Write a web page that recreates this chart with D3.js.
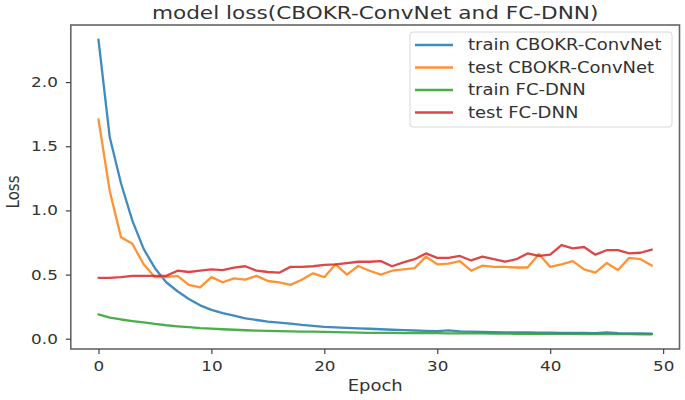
<!DOCTYPE html>
<html>
<head>
<meta charset="utf-8">
<script src="https://cdn.jsdelivr.net/npm/d3@7"></script>
<style>
  html, body { margin: 0; padding: 0; background: #fff; }
  svg { display: block; font-family: "DejaVu Sans", sans-serif; }
</style>
</head>
<body>
<svg id="chart" width="685" height="400"></svg>
<script>
// ---- data ----
const epochs = [0,1,2,3,4,5,6,7,8,9,10,11,12,13,14,15,16,17,18,19,20,21,22,23,24,
                25,26,27,28,29,30,31,32,33,34,35,36,37,38,39,40,41,42,43,44,45,46,47,48,49];

const trainCnn = [2.33, 1.57, 1.21, 0.92, 0.70, 0.55, 0.44, 0.37, 0.31, 0.26,
                  0.225, 0.20, 0.18, 0.158, 0.146, 0.134, 0.126, 0.118, 0.108, 0.10,
                  0.093, 0.088, 0.084, 0.081, 0.078, 0.074, 0.07, 0.067, 0.064, 0.062,
                  0.06, 0.065, 0.058, 0.055, 0.053, 0.052, 0.05, 0.05, 0.049, 0.048,
                  0.047, 0.046, 0.046, 0.045, 0.044, 0.05, 0.044, 0.042, 0.041, 0.04];

const testCnn = [1.71, 1.15, 0.79, 0.74, 0.58, 0.48, 0.48, 0.49, 0.42, 0.40,
                 0.48, 0.44, 0.47, 0.46, 0.49, 0.45, 0.44, 0.42, 0.46, 0.51,
                 0.48, 0.58, 0.50, 0.567, 0.53, 0.50, 0.53, 0.54, 0.55, 0.64,
                 0.58, 0.585, 0.605, 0.53, 0.57, 0.56, 0.56, 0.555, 0.555, 0.66,
                 0.56, 0.58, 0.605, 0.54, 0.515, 0.59, 0.535, 0.63, 0.62, 0.57];

const trainDnn = [0.19, 0.165, 0.15, 0.138, 0.127, 0.115, 0.105, 0.097, 0.09, 0.083,
                  0.078, 0.074, 0.07, 0.066, 0.063, 0.061, 0.059, 0.057, 0.056, 0.055,
                  0.053, 0.051, 0.049, 0.047, 0.046, 0.045, 0.045, 0.044, 0.044, 0.043,
                  0.043, 0.042, 0.042, 0.041, 0.041, 0.040, 0.040, 0.039, 0.039, 0.039,
                  0.038, 0.038, 0.038, 0.037, 0.037, 0.037, 0.036, 0.036, 0.035, 0.035];

const testDnn = [0.475, 0.475, 0.48, 0.49, 0.49, 0.49, 0.49, 0.53, 0.52, 0.53,
                 0.54, 0.535, 0.555, 0.565, 0.53, 0.52, 0.515, 0.56, 0.56, 0.565,
                 0.575, 0.58, 0.59, 0.60, 0.60, 0.605, 0.565, 0.595, 0.62, 0.665,
                 0.63, 0.63, 0.645, 0.61, 0.64, 0.62, 0.60, 0.62, 0.665, 0.645,
                 0.655, 0.73, 0.705, 0.715, 0.655, 0.69, 0.69, 0.665, 0.67, 0.695];

const seriesNames = ["train CBOKR-ConvNet", "test CBOKR-ConvNet", "train FC-DNN", "test FC-DNN"];
const seriesValues = [trainCnn, testCnn, trainDnn, testDnn];
const seriesColors = ["#1f77b4", "#ff7f0e", "#2ca02c", "#d62728"];

const xTicks = [0, 10, 20, 30, 40, 50];
const yTicks = [0.0, 0.5, 1.0, 1.5, 2.0];

const titleText = "model loss(CBOKR-ConvNet and FC-DNN)";
const xLabel = "Epoch";
const yLabel = "Loss";

// ---- layout ----
const SX = 1.2; // horizontal text stretch of the reference image
const plotL = 70.8, plotR = 679.5, plotT = 25, plotB = 349;

const svg = d3.select("#chart");

const x = d3.scaleLinear().domain([-2.45, 51.45]).range([plotL, plotR]);
const y = d3.scaleLinear().domain([-0.08, 2.445]).range([plotB, plotT]);

// lines
const line = d3.line().x((d, i) => x(epochs[i])).y(d => y(d));
const g = svg.append("g");
seriesValues.forEach((vals, k) => {
  g.append("path")
    .datum(vals)
    .attr("fill", "none")
    .attr("stroke", seriesColors[k])
    .attr("stroke-width", 2.3)
    .attr("stroke-linejoin", "round")
    .attr("stroke-linecap", "round")
    .attr("opacity", 0.85)
    .attr("d", line);
});

// frame
svg.append("rect")
  .attr("x", plotL).attr("y", plotT)
  .attr("width", plotR - plotL).attr("height", plotB - plotT)
  .attr("fill", "none").attr("stroke", "#666").attr("stroke-width", 1.6);

// axes
const tickColor = "#444";
const xAxis = svg.append("g")
  .attr("transform", `translate(0,${plotB})`)
  .call(d3.axisBottom(x).tickValues(xTicks).tickFormat(d3.format("d")).tickSize(5).tickPadding(7));
const yAxis = svg.append("g")
  .attr("transform", `translate(${plotL},0)`)
  .call(d3.axisLeft(y).tickValues(yTicks).tickFormat(d3.format(".1f")).tickSize(5).tickPadding(8));

[xAxis, yAxis].forEach(ax => {
  ax.select(".domain").remove();
  ax.selectAll(".tick line").attr("stroke", tickColor).attr("stroke-width", 1.2);
  ax.selectAll(".tick text")
    .attr("fill", "#333")
    .style("font-family", "DejaVu Sans, sans-serif")
    .style("font-size", "14px");
});
xAxis.selectAll(".tick text").attr("transform", `scale(${SX},1)`)
  .attr("x", 0);
yAxis.selectAll(".tick text").attr("transform", `scale(${SX},1)`)
  .attr("x", -13 / SX);

// stretched text helper
function stext(parent, tx, ty, str, size, anchor) {
  return parent.append("text")
    .attr("transform", `translate(${tx},${ty}) scale(${SX},1)`)
    .attr("text-anchor", anchor)
    .attr("fill", "#333")
    .style("font-size", size + "px")
    .text(str);
}

// title
stext(svg, (plotL + plotR) / 2, 19, titleText, 18, "middle");
// x label
stext(svg, (plotL + plotR) / 2, 391, xLabel, 15, "middle");
// y label
svg.append("text")
  .attr("transform", `translate(19,192) rotate(-90) scale(1,${SX})`)
  .attr("text-anchor", "middle")
  .attr("fill", "#333")
  .style("font-size", "15px")
  .text(yLabel);

// legend
const lg = svg.append("g");
lg.append("rect")
  .attr("x", 410).attr("y", 32).attr("width", 262).attr("height", 95)
  .attr("rx", 3).attr("fill", "#fff").attr("fill-opacity", 0.85)
  .attr("stroke", "#d8d8d8").attr("stroke-width", 1);
seriesNames.forEach((name, k) => {
  const cy = 45 + k * 22.5;
  lg.append("line")
    .attr("x1", 415).attr("x2", 453).attr("y1", cy).attr("y2", cy)
    .attr("stroke", seriesColors[k]).attr("stroke-width", 2.3).attr("opacity", 0.85);
  stext(lg, 468, cy + 5, name, 15, "start");
});
</script>
</body>
</html>
